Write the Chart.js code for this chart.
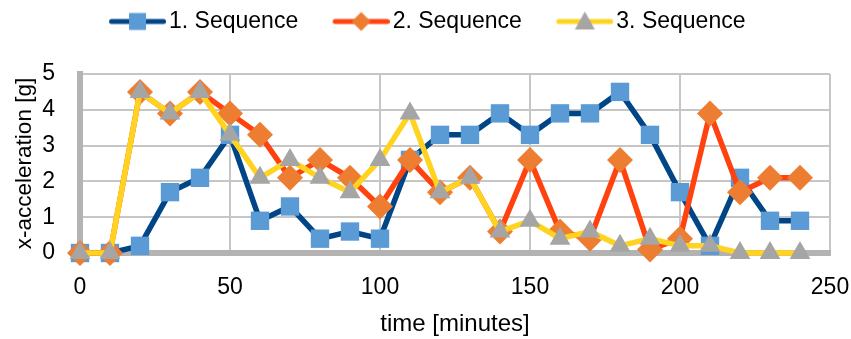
<!DOCTYPE html>
<html>
<head>
<meta charset="utf-8">
<script src="https://cdn.jsdelivr.net/npm/chart.js@4"></script>
<style>
  body { margin: 0; background: #fff; }
  #wrap { width: 851px; height: 339px; }
</style>
</head>
<body>
<div id="wrap"><canvas id="accelChart"></canvas></div>
<script>
// time in minutes, one reading every 10 minutes
const minutes = [0, 10, 20, 30, 40, 50, 60, 70, 80, 90, 100, 110, 120, 130, 140, 150, 160, 170, 180, 190, 200, 210, 220, 230, 240];
const seq1 = [0, 0, 0.2, 1.7, 2.1, 3.3, 0.9, 1.3, 0.4, 0.6, 0.4, 2.6, 3.3, 3.3, 3.9, 3.3, 3.9, 3.9, 4.5, 3.3, 1.7, 0.2, 2.1, 0.9, 0.9];
const seq2 = [0, 0, 4.5, 3.9, 4.5, 3.9, 3.3, 2.1, 2.6, 2.1, 1.3, 2.6, 1.7, 2.1, 0.6, 2.6, 0.6, 0.4, 2.6, 0.1, 0.4, 3.9, 1.7, 2.1, 2.1];
const seq3 = [0, 0, 4.5, 3.9, 4.5, 3.3, 2.1, 2.6, 2.1, 1.7, 2.6, 3.9, 1.7, 2.1, 0.6, 0.9, 0.4, 0.6, 0.2, 0.4, 0.2, 0.2, 0, 0, 0];
const seriesNames = ['1. Sequence', '2. Sequence', '3. Sequence'];
const xTicks = [0, 50, 100, 150, 200, 250];
const yTicks = [0, 1, 2, 3, 4, 5];

const lineColors = ['#004586', '#ff420e', '#ffd320'];
const markerColors = ['#5b9bd5', '#ed7d31', '#a5a5a5'];
const markerStyles = ['rect', 'rectRot', 'triangle'];
const FONT = '"Liberation Sans", Arial, sans-serif';

// legend icon: a short line with the marker in the middle
function legendIcon(lineColor, markerColor, shape) {
    const c = document.createElement('canvas');
    c.width = 90;
    c.height = 24;
    const g = c.getContext('2d');
    g.strokeStyle = lineColor;
    g.lineWidth = 5;
    g.lineCap = 'round';
    g.beginPath();
    g.moveTo(35.5, 12);
    g.lineTo(87.5, 12);
    g.stroke();
    const cx = 61.5, cy = 12;
    g.fillStyle = markerColor;
    g.beginPath();
    if (shape === 'rect') {
        g.rect(cx - 8.5, cy - 8.5, 17, 17);
    } else if (shape === 'rectRot') {
        g.moveTo(cx, cy - 9.5);
        g.lineTo(cx + 9.5, cy);
        g.lineTo(cx, cy + 9.5);
        g.lineTo(cx - 9.5, cy);
    } else {
        g.moveTo(cx, cy - 10);
        g.lineTo(cx + 10, cy + 8);
        g.lineTo(cx - 10, cy + 8);
    }
    g.closePath();
    g.fill();
    return c;
}
const icons = markerStyles.map((s, i) => legendIcon(lineColors[i], markerColors[i], s));

const datasets = [seq1, seq2, seq3].map((vals, i) => ({
    label: seriesNames[i],
    data: minutes.map((m, j) => ({ x: m, y: vals[j] })),
    borderColor: lineColors[i],
    borderWidth: 5.5,
    pointStyle: markerStyles[i],
    pointRadius: i === 2 ? 12 : 13,
    pointBackgroundColor: markerColors[i],
    pointBorderColor: markerColors[i],
    pointBorderWidth: 0,
    tension: 0,
    clip: false,
    order: 3 - i
}));

new Chart(document.getElementById('accelChart'), {
    type: 'line',
    data: { datasets },
    options: {
        responsive: true,
        maintainAspectRatio: false,
        animation: false,
        layout: { padding: { top: 0, right: 21, bottom: 0, left: 0 } },
        plugins: {
            tooltip: { enabled: false },
            legend: {
                position: 'top',
                labels: {
                    usePointStyle: true,
                    pointStyleWidth: 73,
                    padding: 10,
                    color: '#000',
                    font: { family: FONT, size: 23 },
                    sort: (a, b) => a.datasetIndex - b.datasetIndex,
                    generateLabels: chart => Chart.defaults.plugins.legend.labels.generateLabels(chart)
                        .map(item => Object.assign(item, { pointStyle: icons[item.datasetIndex], rotation: 0 }))
                }
            }
        },
        scales: {
            x: {
                type: 'linear',
                min: 0,
                max: 250,
                afterBuildTicks: s => { s.ticks = xTicks.map(v => ({ value: v })); },
                afterFit: s => { s.height = 86; s.paddingLeft = 0; s.paddingRight = 0; },
                ticks: { color: '#000', padding: 21, font: { family: FONT, size: 23 } },
                grid: { color: '#c6c6c6', lineWidth: 2, drawTicks: false },
                border: { color: '#b3b3b3', width: 6 },
                title: {
                    display: true,
                    text: 'time [minutes]',
                    color: '#000',
                    font: { family: FONT, size: 24 },
                    padding: { top: 0, bottom: 0 }
                }
            },
            // empty band between legend and plot
            gap: {
                type: 'linear',
                position: 'top',
                display: true,
                ticks: { display: false },
                grid: { display: false },
                border: { display: false },
                afterFit: s => { s.height = 31; }
            },
            y: {
                min: 0,
                max: 5,
                afterBuildTicks: s => { s.ticks = yTicks.map(v => ({ value: v })); },
                afterFit: s => { s.width = 80; },
                ticks: { color: '#000', padding: 25, font: { family: FONT, size: 23 } },
                grid: { color: '#c6c6c6', lineWidth: 2, drawTicks: false },
                border: { color: '#b3b3b3', width: 6 },
                title: {
                    display: true,
                    text: 'x-acceleration [g]',
                    color: '#000',
                    font: { family: FONT, size: 22.5 },
                    padding: { top: 11, bottom: 0 }
                }
            }
        }
    }
});
</script>
</body>
</html>
